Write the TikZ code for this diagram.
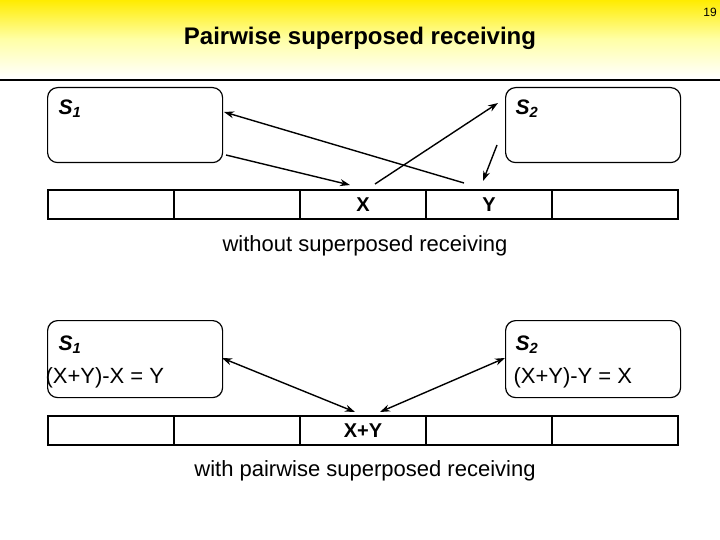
\documentclass[tikz,border=0pt]{standalone}
\usepackage{fontspec}
\setmainfont{Liberation Sans}
\usetikzlibrary{arrows.meta}
\begin{document}
\begin{tikzpicture}[x=1pt,y=-1pt,
  box/.style={draw,line width=1.2pt,rounded corners=10pt},
  cell/.style={draw,line width=2pt,minimum width=126pt,minimum height=29pt,inner sep=0pt,font=\fontsize{20}{24}\selectfont\bfseries},
  lbl/.style={font=\fontsize{22}{26}\selectfont},
  sname/.style={font=\fontsize{21}{24}\selectfont\bfseries\itshape},
  arr/.style={line width=1.4pt,-{Stealth[length=10pt,width=7pt]}}]
\useasboundingbox (0,0) rectangle (720,540);
\shade[top color=yellow!85!orange,bottom color=white,middle color=yellow!35] (0,0) rectangle (720,78);
\draw[line width=2pt] (0,80) -- (720,80);
\node[font=\fontsize{12}{14}\selectfont] (pg) at (710,12) {19};
\node[font=\fontsize{24}{28}\selectfont\bfseries] (title) at (360,38) {Pairwise superposed receiving};
% top
\node[box,minimum width=175pt,minimum height=75pt,anchor=north west] (s1) at (47,87) {};
\node[box,minimum width=175pt,minimum height=75pt,anchor=north west] (s2) at (505,87) {};
\node[sname,anchor=west] (s1t) at (55,109) {S\textsubscript{1}};
\node[sname,anchor=west] (s2t) at (512,109) {S\textsubscript{2}};
\foreach \i/\t in {0/,1/,2/X,3/Y,4/}
  \node[cell,anchor=north west] (a\i) at (47+126*\i,189) {\t};
\coordinate (p1) at (226,155); \coordinate (p2) at (350,185);
\coordinate (p3) at (375,184); \coordinate (p4) at (498,103);
\coordinate (p5) at (464,183); \coordinate (p6) at (224,112);
\coordinate (p7) at (497,145); \coordinate (p8) at (483,181);
\draw[arr] (p1) -- (p2);
\draw[arr] (p3) -- (p4);
\draw[arr] (p5) -- (p6);
\draw[arr] (p7) -- (p8);
\node[lbl] (w1) at (365,246) {without superposed receiving};
% bottom
\node[box,minimum width=175pt,minimum height=77pt,anchor=north west] (b1) at (47,320) {};
\node[box,minimum width=175pt,minimum height=77pt,anchor=north west] (b2) at (505,320) {};
\node[sname,anchor=west] (b1t) at (55,345) {S\textsubscript{1}};
\node[sname,anchor=west] (b2t) at (512,345) {S\textsubscript{2}};
\node[lbl,anchor=west] (b1e) at (42,378) {(X+Y)-X = Y};
\node[lbl,anchor=west] (b2e) at (510,378) {(X+Y)-Y = X};
\foreach \i/\t in {0/,1/,2/X+Y,3/,4/}
  \node[cell,anchor=north west] (c\i) at (47+126*\i,415) {\t};
\coordinate (q1) at (222,358); \coordinate (q2) at (355,412);
\coordinate (q3) at (380,412); \coordinate (q4) at (505,358);
\draw[line width=1.4pt,{Stealth[length=10pt,width=7pt]}-{Stealth[length=10pt,width=7pt]}] (q1) -- (q2);
\draw[line width=1.4pt,{Stealth[length=10pt,width=7pt]}-{Stealth[length=10pt,width=7pt]}] (q3) -- (q4);
\node[lbl] (w2) at (365,471) {with pairwise superposed receiving};
\end{tikzpicture}
\end{document}
